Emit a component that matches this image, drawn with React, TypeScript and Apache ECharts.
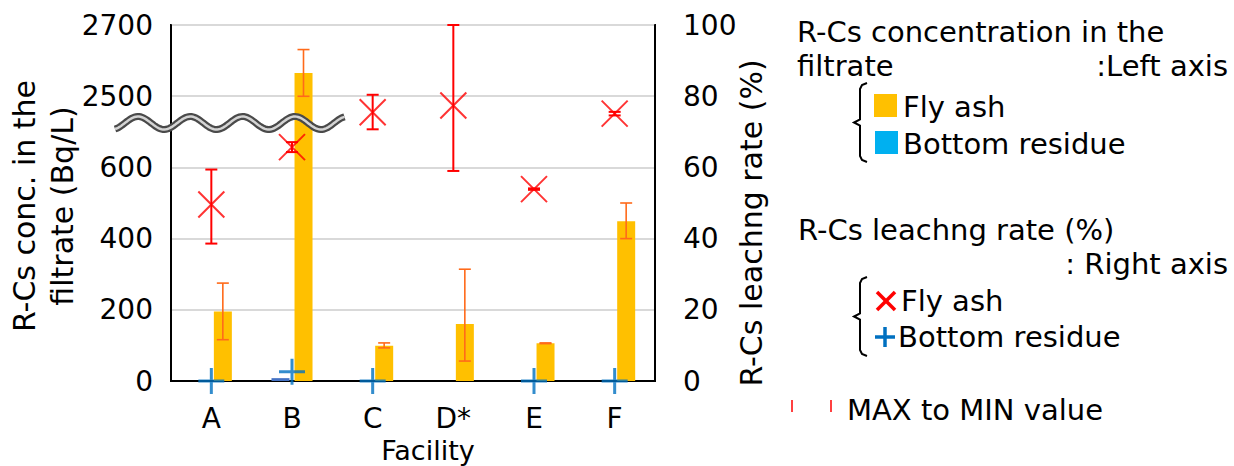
import React, { useEffect, useRef } from "react";
import * as echarts from "echarts";

const categories = ["A", "B", "C", "D*", "E", "F"];
// R-Cs concentration in the filtrate (Bq/L), left axis (broken between 600 and 2500)
const flyAshConc = [195, 2565, 99, 160, 106, 449];
const flyAshConcMax = [275, 2631, 107, 314, 107, 500];
const flyAshConcMin = [116, 2498, 93, 56, 105, 400];
const bottomConc = [0, 8, 0, null, 0, 0];
// R-Cs leaching rate (%), right axis
const flyAshRate = [49.6, 65.7, 75.5, 77.4, 53.9, 75.1];
const flyAshRateMax = [59.4, 67.1, 80.4, 100, 54.1, 75.6];
const flyAshRateMin = [38.6, 64.3, 70.7, 59.0, 53.7, 74.6];
const bottomRate = [0, 2.6, 0, null, 0, 0];
// left axis tick labels at the 6 evenly spaced positions
const leftTicks = ["0", "200", "400", "600", "2500", "2700"];

const FONT = "DejaVu Sans";

// broken left axis: 0-600 linear, 600-2500 squeezed into one slot, 2500-2700 linear
const toSlot = (v: number | null) => {
  if (v === null) return null;
  if (v <= 600) return v / 10;
  if (v < 2500) return 60 + ((v - 600) / 1900) * 20;
  return 80 + (v - 2500) / 10;
};

const GRID = { left: 171, top: 25, width: 484, height: 356 };

function errRender(color: string, offset: number, capW: number, lw: number) {
  return (params: any, api: any) => {
    const x = api.value(0);
    const lo = api.coord([x, api.value(1)]);
    const hi = api.coord([x, api.value(2)]);
    const cx = lo[0] + offset;
    const st = { stroke: color, lineWidth: lw };
    return {
      type: "group",
      children: [
        { type: "line", shape: { x1: cx, y1: hi[1], x2: cx, y2: lo[1] }, style: st },
        { type: "line", shape: { x1: cx - capW / 2, y1: hi[1], x2: cx + capW / 2, y2: hi[1] }, style: st },
        { type: "line", shape: { x1: cx - capW / 2, y1: lo[1], x2: cx + capW / 2, y2: lo[1] }, style: st },
      ],
    };
  };
}

function bracket(x: number, y0: number, y1: number) {
  const ym = (y0 + y1) / 2;
  return {
    type: "polyline",
    shape: {
      points: [
        [x + 7, y0],
        [x + 2, y0 + 2],
        [x, y0 + 6],
        [x, ym - 3],
        [x - 6, ym],
        [x, ym + 3],
        [x, y1 - 6],
        [x + 2, y1 - 2],
        [x + 7, y1],
      ],
    },
    style: { stroke: "#000", lineWidth: 2, fill: "none" },
  };
}

function wavePoints(x0: number, x1: number, yc: number, amp: number, peakX: number, period: number) {
  const pts: number[][] = [];
  for (let x = x0; x <= x1; x += 1.5) {
    pts.push([x, yc - amp * Math.cos((2 * Math.PI * (x - peakX)) / period)]);
  }
  return pts;
}

const txt = (text: string, x: number, y: number, align = "left", size = 29, extra: any = {}) => ({
  type: "text",
  x,
  y,
  style: {
    text,
    fontFamily: FONT,
    fontSize: size,
    fill: "#000",
    align,
    verticalAlign: "middle",
    ...extra,
  },
});

export default function App() {
  const ref = useRef<HTMLDivElement>(null);
  useEffect(() => {
    if (!ref.current) return;
    const chart = echarts.init(ref.current, null, { renderer: "svg" });
    const wave = wavePoints(115, 345, 123, 6.5, 138, 52.3);
    const option: any = {
      animation: false,
      grid: { ...GRID, show: true, borderColor: "#000", borderWidth: 2, containLabel: false },
      xAxis: {
        type: "category",
        data: categories,
        axisLine: { lineStyle: { color: "#000", width: 2 } },
        axisTick: { show: false },
        axisLabel: { fontFamily: FONT, fontSize: 28, color: "#000", margin: 23 },
      },
      yAxis: [
        {
          type: "value",
          min: 0,
          max: 100,
          interval: 20,
          position: "left",
          axisLine: { show: true, lineStyle: { color: "#000", width: 2 } },
          axisTick: { show: false },
          splitLine: { lineStyle: { color: "#d9d9d9", width: 2 } },
          axisLabel: {
            fontFamily: FONT,
            fontSize: 28,
            color: "#000",
            margin: 18,
            formatter: (v: number) => leftTicks[Math.round(v / 20)],
          },
        },
        {
          type: "value",
          min: 0,
          max: 100,
          interval: 20,
          position: "right",
          axisLine: { show: true, lineStyle: { color: "#000", width: 2 } },
          axisTick: { show: false },
          splitLine: { show: false },
          axisLabel: { fontFamily: FONT, fontSize: 28, color: "#000", margin: 28 },
        },
      ],
      series: [
        {
          name: "Bottom residue conc",
          type: "bar",
          yAxisIndex: 0,
          barWidth: 18,
          barGap: "28%",
          data: bottomConc.map(toSlot),
          itemStyle: { color: "#4472C4" },
          z: 2,
        },
        {
          name: "Fly ash conc",
          type: "bar",
          yAxisIndex: 0,
          barWidth: 18,
          barGap: "28%",
          data: flyAshConc.map(toSlot),
          itemStyle: { color: "#FFC000" },
          z: 2,
        },
        {
          name: "Fly ash conc range",
          type: "custom",
          yAxisIndex: 0,
          renderItem: errRender("#FF6A1A", 11.5, 12, 1.6),
          encode: { x: 0, y: [1, 2] },
          data: categories.map((_, i) => [i, toSlot(flyAshConcMin[i]), toSlot(flyAshConcMax[i])]),
          z: 3,
        },
        {
          name: "Fly ash rate range",
          type: "custom",
          yAxisIndex: 1,
          renderItem: errRender("#FF0000", 0, 12, 2),
          encode: { x: 0, y: [1, 2] },
          data: categories.map((_, i) => [i, flyAshRateMin[i], flyAshRateMax[i]]),
          z: 4,
        },
        {
          name: "Fly ash rate",
          type: "scatter",
          yAxisIndex: 1,
          symbol: "path://M0 0L20 20M20 0L0 20",
          symbolSize: 26,
          itemStyle: { color: "transparent", borderColor: "#FF0000", borderWidth: 2 },
          data: flyAshRate,
          z: 5,
        },
        {
          name: "Bottom residue rate",
          type: "scatter",
          yAxisIndex: 1,
          symbol: "path://M10 0L10 20M0 10L20 10",
          symbolSize: 26,
          itemStyle: { color: "transparent", borderColor: "#0070C0", borderWidth: 3 },
          data: bottomRate,
          z: 5,
        },
      ],
      graphic: [
        // axis break symbol
        { type: "polyline", shape: { points: wave, smooth: 0 }, style: { stroke: "#4a4a4a", lineWidth: 7, fill: "none" }, z: 10 },
        { type: "polyline", shape: { points: wave, smooth: 0 }, style: { stroke: "#d4d4d4", lineWidth: 2.5, fill: "none" }, z: 11 },
        // axis names
        { ...txt("R-Cs conc. in the\nfiltrate (Bq/L)", 0, 0, "center", 30, { lineHeight: 38 }), x: 43, y: 206, rotation: Math.PI / 2 },
        { ...txt("R-Cs leachng rate (%)", 0, 0, "center", 30), x: 751, y: 223, rotation: Math.PI / 2 },
        txt("Facility", 428, 450, "center", 27),
        // legend block
        txt("R-Cs concentration in the", 797, 32),
        txt("filtrate", 797, 66),
        txt(":Left axis", 1228, 66, "right"),
        bracket(860, 83, 162),
        { type: "rect", shape: { x: 874, y: 94, width: 23, height: 23 }, style: { fill: "#FFC000" } },
        txt("Fly ash", 903, 107),
        { type: "rect", shape: { x: 875, y: 131, width: 23, height: 23 }, style: { fill: "#00B0F0" } },
        txt("Bottom residue", 903, 143.5),
        txt("R-Cs leachng rate (%)", 798, 230),
        txt(": Right axis", 1228, 263.5, "right"),
        bracket(860, 277, 356),
        { type: "line", shape: { x1: 877, y1: 292, x2: 895, y2: 310 }, style: { stroke: "#FF0000", lineWidth: 3.5 } },
        { type: "line", shape: { x1: 895, y1: 292, x2: 877, y2: 310 }, style: { stroke: "#FF0000", lineWidth: 3.5 } },
        txt("Fly ash", 901, 301),
        { type: "line", shape: { x1: 875, y1: 337, x2: 895, y2: 337 }, style: { stroke: "#0070C0", lineWidth: 3.5 } },
        { type: "line", shape: { x1: 885, y1: 327, x2: 885, y2: 347 }, style: { stroke: "#0070C0", lineWidth: 3.5 } },
        txt("Bottom residue", 898, 337),
        { type: "line", shape: { x1: 792, y1: 400, x2: 792, y2: 412 }, style: { stroke: "#FF0000", lineWidth: 1.5 } },
        { type: "line", shape: { x1: 831, y1: 400, x2: 831, y2: 412 }, style: { stroke: "#FF0000", lineWidth: 1.5 } },
        txt("MAX to MIN value", 847, 410),
      ],
    };
    chart.setOption(option);
    return () => chart.dispose();
  }, []);
  return <div ref={ref} style={{ width: 1234, height: 466, position: "absolute", left: 0, top: 0 }} />;
}
